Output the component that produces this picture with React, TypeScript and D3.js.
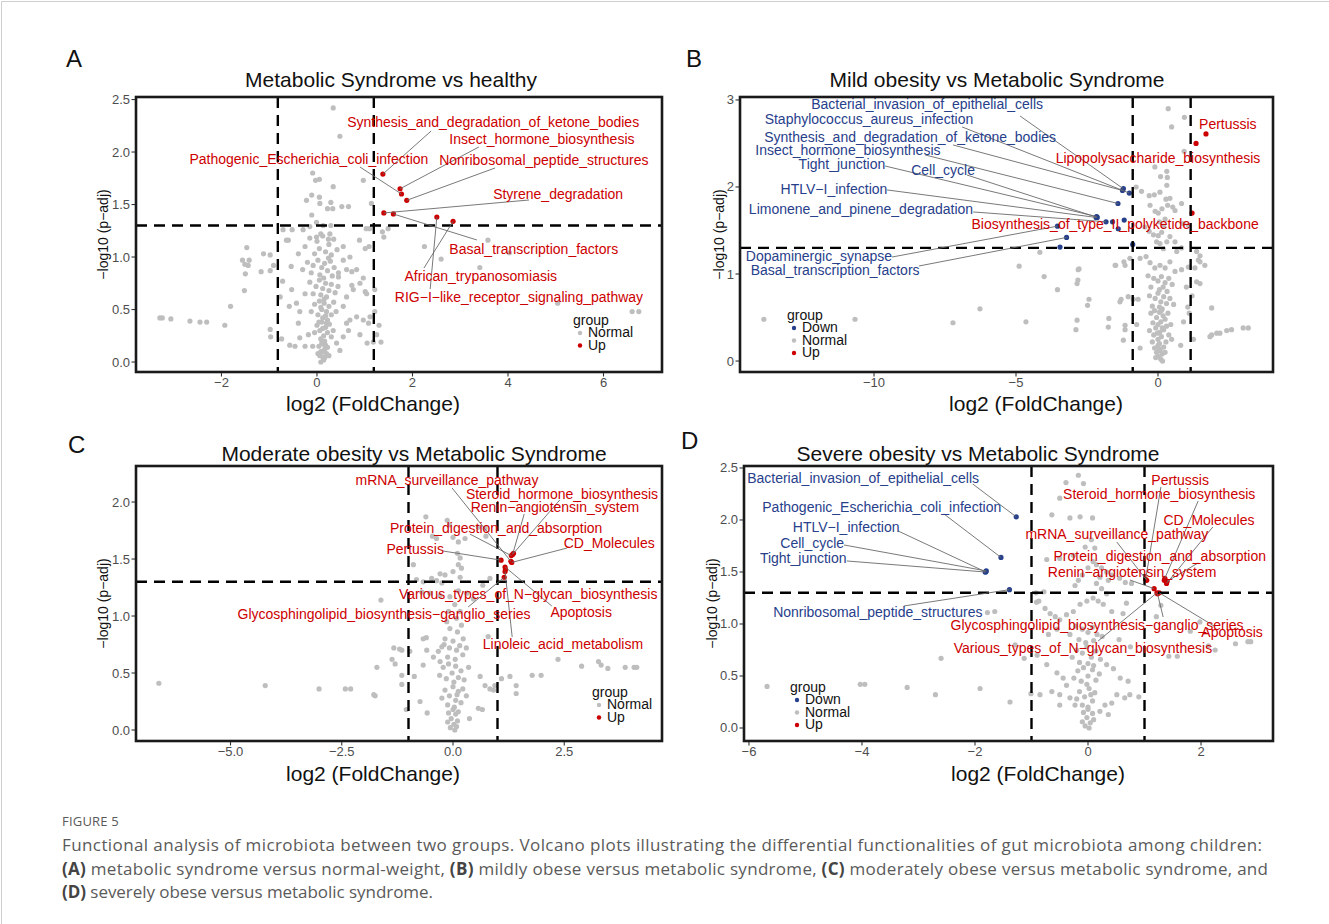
import React from "react";
import * as d3 from "d3";

const RED = "#CD0000";
const BLUE = "#27408B";
const GRAY = "#BEBEBE";
const FONT = "'Liberation Sans', Arial, Helvetica, sans-serif";

type Pt = [number, number];
type Hit = { x: number; y: number; label?: string; lx?: number; ly?: number; sx?: number; sy?: number };

// ---------- Panel A: Metabolic Syndrome vs healthy ----------
const grayA: Pt[] = [
  [-3.29, 0.42], [-3.24, 0.42], [-3.06, 0.41], [-2.66, 0.39], [-2.45, 0.38], [-2.31, 0.38], [-1.93, 0.35], [-1.81, 0.53],
  [-1.47, 1.09], [-1.56, 0.97], [-1.42, 0.97], [-1.51, 0.93], [-1.44, 0.92], [-1.5, 0.84], [-1.52, 0.68],
  [-1.12, 1.03], [-0.98, 1.02], [-1.17, 0.86], [-0.98, 0.87], [-0.71, 1.26], [-0.52, 1.26], [-0.64, 1.16], [-0.6, 1.16],
  [-0.72, 0.77], [-0.54, 0.91], [-0.39, 1.03], [-0.91, 0.92], [-0.98, 0.31], [-0.97, 0.24], [-0.74, 0.22], [-0.57, 0.16],
  [-0.46, 0.15], [-0.36, 0.23], [-0.25, 0.15], [-0.18, 0.26], [-0.09, 0.15], [-0.58, 0.53], [-0.43, 0.56], [-0.36, 0.48],
  [-0.39, 0.37], [-0.53, 0.69], [-0.77, 0.62], [-0.25, 0.65],
  [0.55, 0.97], [0.62, 0.88], [0.73, 0.86], [0.83, 0.88], [0.97, 0.8], [1.01, 0.67], [0.9, 0.75], [0.76, 0.69], [0.62, 0.62],
  [0.55, 0.53], [0.69, 0.4], [0.83, 0.43], [0.97, 0.4], [1.08, 0.37], [1.11, 0.43], [1.21, 0.48], [1.04, 0.65], [1.21, 0.69],
  [1.25, 0.26], [1.18, 0.19], [1.05, 0.18], [0.62, 0.37], [0.55, 0.24], [0.41, 0.18], [0.48, 0.11], [0.66, 0.3], [0.9, 0.26],
  [0.55, 1.1], [0.69, 1.0], [0.45, 0.81], [0.73, 0.73],
  [-0.15, 1.18], [0.0, 1.15], [0.12, 1.2], [0.25, 1.12], [0.35, 1.17], [0.05, 1.08], [0.18, 1.05], [0.3, 1.02], [-0.05, 1.03],
  [0.42, 1.07], [-0.25, 1.1],
  [-0.2, 0.95], [-0.08, 0.92], [0.02, 0.97], [0.1, 0.9], [0.16, 0.94], [0.22, 0.87], [0.28, 0.96], [0.36, 0.9], [0.45, 0.85],
  [-0.12, 0.85], [0.06, 0.83], [0.14, 0.8], [0.32, 0.82], [-0.3, 0.88], [0.24, 0.99],
  [-0.15, 0.76], [-0.02, 0.72], [0.05, 0.78], [0.12, 0.7], [0.18, 0.75], [0.25, 0.68], [0.3, 0.74], [0.38, 0.66], [0.08, 0.64],
  [0.2, 0.62], [-0.08, 0.65], [0.44, 0.72], [0.15, 0.6],
  [-0.05, 0.55], [0.05, 0.58], [0.1, 0.5], [0.15, 0.56], [0.2, 0.48], [0.25, 0.53], [0.3, 0.45], [0.35, 0.57], [0.02, 0.45],
  [0.12, 0.42], [0.22, 0.4], [0.4, 0.48], [0.08, 0.52], [0.18, 0.44], [-0.12, 0.48],
  [0.0, 0.35], [0.06, 0.3], [0.1, 0.38], [0.14, 0.25], [0.18, 0.33], [0.22, 0.28], [0.26, 0.36], [0.3, 0.24], [0.08, 0.22],
  [0.16, 0.2], [0.34, 0.3], [0.04, 0.38], [0.2, 0.37], [0.12, 0.32], [-0.05, 0.28],
  [0.04, 0.15], [0.08, 0.1], [0.12, 0.05], [0.16, 0.12], [0.2, 0.08], [0.1, 0.18], [0.14, 0.02], [0.18, 0.16], [0.06, 0.06],
  [0.22, 0.14], [0.12, 0.1], [0.16, 0.04], [0.25, 0.06], [0.02, 0.08], [0.08, 0.0], [0.14, 0.17],
  [0.34, 2.42], [0.48, 2.15], [-0.09, 1.8], [-0.03, 1.73], [0.05, 1.74], [0.34, 1.67], [0.97, 1.73], [1.14, 1.51], [-0.11, 1.59],
  [0.05, 1.57], [0.06, 1.51], [0.29, 1.52], [0.33, 1.46], [-0.22, 1.54], [0.22, 1.46], [0.52, 1.48], [0.66, 1.48], [-0.11, 1.4],
  [-0.01, 1.33], [0.29, 1.3], [0.13, 1.3], [-0.15, 1.29], [-0.29, 1.26], [1.03, 1.27], [1.1, 1.27], [1.37, 1.24], [1.4, 1.19],
  [1.49, 1.27], [-0.01, 1.19], [0.08, 1.22], [0.24, 1.17], [0.27, 1.22], [0.89, 1.16], [1.09, 1.1], [1.01, 1.08],
  [2.25, 1.1], [2.6, 0.98], [3.41, 0.9], [3.58, 1.16], [4.03, 1.04], [5.04, 0.56], [6.6, 0.48], [6.74, 0.48], [1.3, 0.35], [1.34, 0.19],
];
const upA: Hit[] = [
  { x: 1.38, y: 1.79, label: "Synthesis_and_degradation_of_ketone_bodies", lx: 3.69, ly: 2.286, sx: 2.39, sy: 2.2 },
  { x: 1.74, y: 1.65, label: "Insect_hormone_biosynthesis", lx: 4.71, ly: 2.124, sx: 3.39, sy: 2.048 },
  { x: 1.77, y: 1.6, label: "Pathogenic_Escherichia_coli_infection", lx: -0.17, ly: 1.933, sx: 0.9, sy: 1.857 },
  { x: 1.88, y: 1.54, label: "Nonribosomal_peptide_structures", lx: 4.75, ly: 1.924, sx: 3.73, sy: 1.848 },
  { x: 1.4, y: 1.42, label: "Styrene_degradation", lx: 5.05, ly: 1.6, sx: 4.44, sy: 1.543 },
  { x: 1.6, y: 1.41, label: "Basal_transcription_factors", lx: 4.54, ly: 1.076, sx: 3.35, sy: 1.162 },
  { x: 2.85, y: 1.34, label: "African_trypanosomiasis", lx: 3.43, ly: 0.819, sx: 2.24, sy: 0.895 },
  { x: 2.51, y: 1.38, label: "RIG\u2212I\u2212like_receptor_signaling_pathway", lx: 4.23, ly: 0.619, sx: 2.37, sy: 0.695 },
];

// ---------- Panel B: Mild obesity vs Metabolic Syndrome ----------
const grayB: Pt[] = [
  [0.36, 2.9], [0.93, 2.8], [0.48, 2.69], [0.92, 2.41], [-0.11, 2.23], [0.31, 2.18], [0.09, 2.12], [0.33, 2.11], [0.31, 2.02], [-0.77, 2.0],
  [-0.58, 1.95], [-0.31, 1.9], [-0.13, 1.91], [0.07, 1.94], [0.28, 1.86], [0.42, 1.87], [0.34, 1.79], [0.52, 1.77], [-0.28, 1.79], [0.83, 1.81],
  [-0.1, 1.72], [0.01, 1.7], [0.14, 1.75], [0.25, 1.63], [0.6, 1.73], [0.89, 1.58], [1.07, 1.56], [-0.46, 1.54], [-0.31, 1.49], [-0.16, 1.45],
  [0.01, 1.44], [0.13, 1.48], [0.31, 1.37], [0.42, 1.43], [0.05, 1.6], [0.2, 1.55],
  [-0.05, 1.37], [0.07, 1.35], [0.19, 1.29], [0.6, 1.37], [0.66, 1.26], [0.83, 1.3], [1.36, 1.26], [1.48, 1.21], [-0.63, 1.18], [-0.42, 1.2],
  [-0.99, 1.18], [-1.16, 1.1], [-1.51, 1.1], [-0.28, 1.13], [-0.11, 1.07], [0.07, 1.1], [0.25, 1.07], [0.42, 1.14], [0.6, 1.03], [0.83, 1.05],
  [1.07, 1.08], [1.3, 1.07], [1.48, 1.14], [1.65, 1.1], [1.42, 1.16],
  [-2.81, 1.05], [-2.85, 0.89], [-1.3, 0.71], [-2.48, 0.64], [-1.05, 0.74], [-0.87, 0.71], [-0.7, 0.71], [-1.16, 0.41], [-1.75, 0.39],
  [-2.89, 0.36], [-1.22, 0.24], [-0.75, 0.42], [-0.63, 0.15],
  [1.89, 0.61], [1.89, 0.3], [2.07, 0.32], [1.36, 0.91], [1.48, 0.89], [1.83, 0.28], [2.18, 0.32], [2.42, 0.35], [2.59, 0.36], [3.0, 0.38],
  [3.18, 0.38], [1.0, 0.85], [1.2, 0.75], [1.1, 0.55], [0.9, 0.45], [1.25, 0.25], [0.8, 0.18], [1.05, 0.62],
  [-13.88, 0.48], [-10.67, 0.48], [-7.22, 0.44], [-6.27, 0.6], [-4.89, 1.09], [-4.65, 0.45], [-4.16, 1.25], [-4.01, 0.97], [-3.54, 0.82],
  [-2.78, 1.06], [-2.82, 0.93], [-2.43, 0.71], [-2.85, 0.47], [-1.73, 0.49], [-1.16, 0.36], [-1.49, 1.1], [-1.2, 1.14], [-1.34, 0.68],
  [-0.35, 0.98], [-0.15, 0.95], [0.0, 0.92], [0.12, 0.97], [0.25, 0.9], [0.38, 0.95], [0.5, 0.88], [-0.25, 0.85], [0.05, 0.82], [0.18, 0.85], [0.32, 0.8],
  [-0.3, 0.75], [-0.1, 0.72], [0.0, 0.78], [0.1, 0.68], [0.2, 0.74], [0.3, 0.66], [0.42, 0.72], [-0.2, 0.63], [0.05, 0.62], [0.15, 0.6], [0.55, 0.65],
  [-0.25, 0.55], [-0.12, 0.58], [-0.05, 0.5], [0.05, 0.56], [0.1, 0.45], [0.18, 0.52], [0.25, 0.48], [0.35, 0.55], [0.45, 0.42], [-0.18, 0.44],
  [0.0, 0.42], [0.12, 0.58], [0.3, 0.4],
  [-0.3, 0.35], [-0.15, 0.3], [-0.08, 0.38], [0.0, 0.25], [0.06, 0.33], [0.12, 0.28], [0.2, 0.36], [0.28, 0.22], [0.38, 0.3], [-0.2, 0.22],
  [0.05, 0.2], [0.15, 0.38], [0.48, 0.25], [-0.02, 0.32],
  [-0.12, 0.15], [-0.05, 0.1], [0.02, 0.05], [0.08, 0.12], [0.14, 0.08], [0.2, 0.16], [0.0, 0.18], [0.1, 0.02], [-0.08, 0.04], [0.16, 0.0],
  [0.25, 0.1], [0.05, 0.14],
];
const downB: Hit[] = [
  { x: -1.22, y: 1.98, label: "Bacterial_invasion_of_epithelial_cells", lx: -8.13, ly: 2.954, sx: -4.86, sy: 2.816 },
  { x: -1.25, y: 1.96, label: "Synthesis_and_degradation_of_ketone_bodies", lx: -8.73, ly: 2.575, sx: -7.22, sy: 2.483 },
  { x: -1.01, y: 1.93, label: "Staphylococcus_aureus_infection", lx: -10.18, ly: 2.782, sx: -6.9, sy: 2.69 },
  { x: -1.41, y: 1.81, label: "Insect_hormone_biosynthesis", lx: -10.92, ly: 2.425, sx: -8.2, sy: 2.368 },
  { x: -2.16, y: 1.66, label: "Tight_junction", lx: -11.13, ly: 2.264, sx: -9.61, sy: 2.241 },
  { x: -2.14, y: 1.65, label: "Cell_cycle", lx: -7.57, ly: 2.195, sx: -6.73, sy: 2.138 },
  { x: -2.18, y: 1.65, label: "HTLV\u2212I_infection", lx: -11.41, ly: 1.977, sx: -9.54, sy: 1.966 },
  { x: -1.83, y: 1.6, label: "Limonene_and_pinene_degradation", lx: -10.46, ly: 1.747, sx: -6.51, sy: 1.713 },
  { x: -3.54, y: 1.55, label: "Dopaminergic_synapse", lx: -11.94, ly: 1.207, sx: -9.37, sy: 1.195 },
  { x: -3.22, y: 1.42, label: "Basal_transcription_factors", lx: -11.37, ly: 1.046, sx: -8.42, sy: 1.092 },
  { x: -1.6, y: 1.6 }, { x: -1.19, y: 1.62 }, { x: -1.4, y: 1.52 }, { x: -3.45, y: 1.31 }, { x: -0.89, y: 1.34 },
];
const upB: Hit[] = [
  { x: 1.69, y: 2.61, label: "Pertussis", lx: 2.46, ly: 2.724 },
  { x: 1.34, y: 2.5, label: "Lipopolysaccharide_biosynthesis", lx: 0.0, ly: 2.333 },
  { x: 1.2, y: 1.7, label: "Biosynthesis_of_type_II_polyketide_backbone", lx: -1.51, ly: 1.575 },
];

// ---------- Panel C: Moderate obesity vs Metabolic Syndrome ----------
const grayC: Pt[] = [
  [-0.61, 1.87], [-0.13, 1.84], [-0.08, 1.8], [-0.46, 1.7], [-0.37, 1.68], [0.0, 1.69], [0.12, 1.65], [0.27, 1.68], [0.57, 1.78], [0.72, 1.77],
  [0.74, 1.7], [-0.89, 1.45], [0.1, 1.55], [0.16, 1.51], [0.12, 1.45], [-0.29, 1.37], [-0.18, 1.36], [0.0, 1.39], [0.19, 1.42], [0.16, 1.34],
  [-0.48, 1.33], [-0.37, 1.31], [-0.25, 1.29], [-0.82, 1.32], [-0.67, 1.3], [0.83, 1.33], [0.67, 1.27],
  [-0.7, 1.21], [-0.52, 1.2], [-0.29, 1.18], [-0.07, 1.17], [0.12, 1.22], [0.31, 1.2], [0.46, 1.15], [0.04, 1.1], [0.16, 1.04], [-0.1, 1.04],
  [-0.14, 0.95], [-0.07, 0.89], [0.08, 0.98], [0.19, 0.92], [0.1, 0.86], [0.23, 0.8], [-0.18, 0.8], [-0.25, 0.73],
  [-1.62, 1.14], [-6.61, 0.41], [-4.22, 0.39], [-3.01, 0.36], [-2.42, 0.36], [-2.3, 0.36], [-1.75, 0.3], [-1.71, 0.55], [-1.33, 0.72],
  [-1.2, 0.71], [-1.37, 0.62], [-1.15, 0.48], [-0.87, 0.47], [-0.6, 0.81], [-0.74, 0.25], [-0.58, 0.15], [-1.05, 0.18],
  [-0.67, 0.8], [-0.59, 0.7], [-0.44, 0.64], [-0.33, 0.69], [-0.29, 0.6], [-1.15, 0.7], [-0.97, 0.69], [-0.67, 0.57], [-1.15, 0.4],
  [-1.3, 0.58], [-1.78, 0.31],
  [0.91, 0.35], [1.28, 0.47], [1.42, 0.39], [1.42, 0.32], [1.78, 0.48], [1.98, 0.48], [2.36, 0.62], [2.89, 0.56], [3.27, 0.6], [3.33, 0.57],
  [3.48, 0.54], [3.87, 0.55], [4.07, 0.55], [4.13, 0.55], [0.79, 0.82], [0.57, 0.19], [0.66, 0.18], [0.37, 0.1], [0.61, 0.47], [0.72, 0.39],
  [0.83, 0.36], [0.94, 0.39], [1.09, 0.45],
  [-0.2, 0.75], [-0.08, 0.72], [0.0, 0.78], [0.08, 0.7], [0.15, 0.74], [0.22, 0.66], [-0.12, 0.64], [0.05, 0.62], [0.3, 0.72],
  [-0.22, 0.55], [-0.1, 0.58], [-0.02, 0.5], [0.06, 0.56], [0.12, 0.46], [0.18, 0.52], [0.25, 0.44], [-0.15, 0.45], [0.02, 0.42], [0.35, 0.55], [-0.3, 0.48],
  [-0.18, 0.35], [-0.08, 0.3], [0.0, 0.38], [0.06, 0.26], [0.12, 0.34], [0.18, 0.24], [-0.12, 0.22], [0.03, 0.2], [0.22, 0.36], [0.3, 0.3],
  [-0.25, 0.28], [0.09, 0.31],
  [-0.1, 0.15], [-0.04, 0.1], [0.02, 0.05], [0.06, 0.14], [0.1, 0.08], [0.0, 0.18], [-0.06, 0.02], [0.04, 0.0], [0.12, 0.16], [0.08, 0.03], [-0.12, 0.07],
];
const upC: Hit[] = [
  { x: 1.3, y: 1.48, label: "mRNA_surveillance_pathway", lx: -0.135, ly: 2.193, sx: -0.02, sy: 2.123 },
  { x: 1.36, y: 1.55, label: "Steroid_hormone_biosynthesis", lx: 2.45, ly: 2.07, sx: 2.4, sy: 2.018 },
  { x: 1.34, y: 1.54, label: "Renin\u2212angiotensin_system", lx: 2.29, ly: 1.956, sx: 1.6, sy: 1.895 },
  { x: 1.31, y: 1.53, label: "Protein_digestion_and_absorption", lx: 0.97, ly: 1.772, sx: 0.38, sy: 1.719 },
  { x: 1.32, y: 1.47, label: "CD_Molecules", lx: 3.51, ly: 1.64, sx: 2.56, sy: 1.596 },
  { x: 1.08, y: 1.49, label: "Pertussis", lx: -0.85, ly: 1.588, sx: -0.22, sy: 1.57 },
  { x: 1.18, y: 1.41, label: "Various_types_of_N\u2212glycan_biosynthesis", lx: 1.69, ly: 1.193 },
  { x: 1.15, y: 1.34, label: "Glycosphingolipid_biosynthesis\u2212ganglio_series", lx: -1.55, ly: 1.018, sx: 0.34, sy: 1.079 },
  { x: 1.17, y: 1.43, label: "Apoptosis", lx: 2.88, ly: 1.035, sx: 2.22, sy: 1.088 },
  { x: 1.17, y: 1.39, label: "Linoleic_acid_metabolism", lx: 2.47, ly: 0.754, sx: 1.33, sy: 0.816 },
];

// ---------- Panel D: Severe obesity vs Metabolic Syndrome ----------
const grayD: Pt[] = [
  [-0.17, 2.43], [-0.08, 2.35], [-0.5, 2.21], [-0.64, 2.05], [-0.32, 2.02], [-0.14, 2.03], [0.08, 2.02], [-0.39, 2.36],
  [0.06, 1.81], [-0.05, 1.74], [0.12, 1.73], [-0.26, 1.66], [-0.5, 1.63], [-0.73, 1.62], [0.09, 1.6], [0.15, 1.57], [0.24, 1.54], [0.33, 1.5],
  [0.42, 1.47], [0.56, 1.44], [0.66, 1.4], [0.77, 1.39], [0.0, 1.54], [-0.1, 1.47], [-0.17, 1.42], [-0.23, 1.37], [0.21, 1.45], [0.36, 1.42],
  [0.15, 1.39], [0.24, 1.34], [0.33, 1.29],
  [-0.78, 1.31], [-0.87, 1.22], [-0.92, 1.3], [-0.91, 1.21], [-0.76, 1.15], [-0.67, 1.1], [-0.58, 1.07], [-0.5, 1.04], [-0.38, 1.09],
  [-0.26, 1.12], [-0.14, 1.19], [-0.02, 1.22], [0.09, 1.25], [0.18, 1.22], [0.27, 1.19], [0.42, 1.12], [0.62, 1.1], [0.68, 1.2],
  [-1.65, 1.12], [-1.78, 1.11], [1.29, 1.18], [1.21, 1.07], [1.98, 1.02],
  [-5.68, 0.4], [-4.03, 0.42], [-3.95, 0.42], [-3.2, 0.39], [-2.7, 0.32], [-2.6, 0.67], [-1.91, 0.38], [-1.38, 0.25],
  [-0.73, 0.61], [-0.55, 0.53], [-0.44, 0.48], [-0.38, 0.41], [-0.5, 0.32], [-0.64, 0.35], [-0.85, 0.32], [-1.01, 0.33], [-0.5, 0.22],
  [-0.32, 0.29], [-0.23, 0.22], [-1.13, 0.67], [-1.29, 0.8],
  [0.33, 0.61], [0.45, 0.57], [0.57, 0.48], [0.71, 0.45], [0.51, 0.32], [0.65, 0.29], [0.74, 0.32], [0.3, 0.22], [0.42, 0.24], [0.21, 0.16],
  [0.36, 0.13], [1.81, 0.93], [1.58, 0.69], [2.25, 0.75], [2.13, 0.79], [2.61, 0.81], [2.83, 0.83], [2.88, 0.83], [1.43, 0.69], [0.9, 0.3],
  [0.75, 0.78], [0.55, 0.85], [-0.7, 0.9], [-0.55, 0.95], [-0.9, 0.7],
  [-0.22, 0.98], [-0.1, 0.95], [0.0, 0.92], [0.08, 0.97], [0.16, 0.9], [-0.16, 0.85], [-0.04, 0.82], [0.1, 0.84], [0.25, 0.88], [-0.32, 0.9],
  [-0.2, 0.75], [-0.1, 0.72], [-0.02, 0.78], [0.06, 0.68], [0.14, 0.74], [-0.15, 0.63], [0.0, 0.62], [0.1, 0.6], [0.22, 0.66], [-0.28, 0.68],
  [-0.18, 0.55], [-0.08, 0.58], [0.0, 0.5], [0.08, 0.56], [0.14, 0.46], [-0.12, 0.45], [-0.02, 0.42], [0.2, 0.52], [-0.25, 0.48],
  [-0.15, 0.35], [-0.06, 0.3], [0.02, 0.38], [0.08, 0.26], [-0.1, 0.22], [0.0, 0.2], [0.12, 0.34], [-0.2, 0.28], [0.05, 0.32],
  [-0.08, 0.15], [-0.02, 0.1], [0.04, 0.05], [0.08, 0.14], [-0.05, 0.02], [0.0, 0.18], [0.1, 0.08], [-0.1, 0.06], [0.02, 0.0],
];
const downD: Hit[] = [
  { x: -1.27, y: 2.03, label: "Bacterial_invasion_of_epithelial_cells", lx: -3.98, ly: 2.404, sx: -2.04, sy: 2.346 },
  { x: -1.54, y: 1.64, label: "Pathogenic_Escherichia_coli_infection", lx: -3.65, ly: 2.125, sx: -2.55, sy: 2.058 },
  { x: -1.81, y: 1.5, label: "HTLV\u2212I_infection", lx: -4.28, ly: 1.933, sx: -3.36, sy: 1.894 },
  { x: -1.8, y: 1.51, label: "Cell_cycle", lx: -4.88, ly: 1.779, sx: -4.32, sy: 1.76 },
  { x: -1.82, y: 1.5, label: "Tight_junction", lx: -5.04, ly: 1.635, sx: -4.27, sy: 1.606 },
  { x: -1.39, y: 1.33, label: "Nonribosomal_peptide_structures", lx: -3.72, ly: 1.115, sx: -3.26, sy: 1.173 },
];
const upD: Hit[] = [
  { x: 1.02, y: 1.43, label: "Pertussis", lx: 1.63, ly: 2.385, sx: 1.29, sy: 2.317 },
  { x: 1.36, y: 1.44, label: "Steroid_hormone_biosynthesis", lx: 1.26, ly: 2.25, sx: 1.95, sy: 2.183 },
  { x: 1.39, y: 1.39, label: "CD_Molecules", lx: 2.14, ly: 2.0, sx: 2.21, sy: 1.933 },
  { x: 1.04, y: 1.42, label: "mRNA_surveillance_pathway", lx: 0.51, ly: 1.865, sx: 0.51, sy: 1.788 },
  { x: 1.4, y: 1.41, label: "Protein_digestion_and_absorption", lx: 1.27, ly: 1.654, sx: 1.95, sy: 1.587 },
  { x: 1.17, y: 1.34, label: "Renin\u2212angiotensin_system", lx: 0.78, ly: 1.5, sx: 0.74, sy: 1.423 },
  { x: 1.23, y: 1.29, label: "Glycosphingolipid_biosynthesis\u2212ganglio_series", lx: 0.16, ly: 0.99, sx: 1.33, sy: 1.067 },
  { x: 1.26, y: 1.3, label: "Apoptosis", lx: 2.55, ly: 0.923, sx: 2.23, sy: 0.981 },
  { x: 1.22, y: 1.3, label: "Various_types_of_N\u2212glycan_biosynthesis", lx: -0.09, ly: 0.769, sx: 0.18, sy: 0.837 },
  { x: 1.35, y: 1.42 },
];

const pThreshold = 1.3;

interface PanelCfg {
  letter: string;
  title: string;
  box: { l: number; r: number; t: number; b: number };
  xDom: [number, number];
  yDom: [number, number];
  xTicks: number[];
  yTicks: number[];
  xFmt: string;
  yFmt: string;
  vlines: number[];
  gray: Pt[];
  up: Hit[];
  down: Hit[];
  letterPos: [number, number];
  titlePos: [number, number];
  xTitlePos: [number, number];
  yTitleX: number;
  legend: { x: number; y: number; groups: string[] };
}

const panels: PanelCfg[] = [
  {
    letter: "A", title: "Metabolic Syndrome vs healthy",
    box: { l: 136, r: 662, t: 97, b: 372 }, xDom: [-3.79, 7.225], yDom: [-0.095, 2.524],
    xTicks: [-2, 0, 2, 4, 6], yTicks: [0, 0.5, 1, 1.5, 2, 2.5], xFmt: "d", yFmt: ".1f", vlines: [-0.82, 1.19],
    gray: grayA, up: upA, down: [],
    letterPos: [66, 67], titlePos: [391, 87], xTitlePos: [373, 411], yTitleX: 108,
    legend: { x: 573, y: 320, groups: ["Normal", "Up"] },
  },
  {
    letter: "B", title: "Mild obesity vs Metabolic Syndrome",
    box: { l: 740, r: 1273, t: 97, b: 372 }, xDom: [-14.72, 4.05], yDom: [-0.126, 3.034],
    xTicks: [-10, -5, 0], yTicks: [0, 1, 2, 3], xFmt: "d", yFmt: "d", vlines: [-0.89, 1.15],
    gray: grayB, up: upB, down: downB,
    letterPos: [686, 67], titlePos: [997, 87], xTitlePos: [1036, 411], yTitleX: 724,
    legend: { x: 787, y: 315, groups: ["Down", "Normal", "Up"] },
  },
  {
    letter: "C", title: "Moderate obesity vs Metabolic Syndrome",
    box: { l: 136, r: 662, t: 466, b: 741 }, xDom: [-7.124, 4.697], yDom: [-0.0965, 2.316],
    xTicks: [-5, -2.5, 0, 2.5], yTicks: [0, 0.5, 1, 1.5, 2], xFmt: ".1f", yFmt: ".1f", vlines: [-1, 1],
    gray: grayC, up: upC, down: [],
    letterPos: [68, 453], titlePos: [414, 461], xTitlePos: [373, 781], yTitleX: 108,
    legend: { x: 592, y: 692, groups: ["Normal", "Up"] },
  },
  {
    letter: "D", title: "Severe obesity vs Metabolic Syndrome",
    box: { l: 744, r: 1273, t: 466, b: 741 }, xDom: [-6.088, 3.274], yDom: [-0.125, 2.519],
    xTicks: [-6, -4, -2, 0, 2], yTicks: [0, 0.5, 1, 1.5, 2, 2.5], xFmt: "d", yFmt: ".1f", vlines: [-1, 1],
    gray: grayD, up: upD, down: downD,
    letterPos: [681, 449], titlePos: [978, 461], xTitlePos: [1038, 781], yTitleX: 717,
    legend: { x: 790, y: 687, groups: ["Down", "Normal", "Up"] },
  },
];

const minus = (s: string) => s.replace(/-/g, "\u2212");
const groupColor: Record<string, string> = { Down: BLUE, Normal: GRAY, Up: RED };

function Panel({ cfg }: { cfg: PanelCfg }) {
  const { box } = cfg;
  const x = d3.scaleLinear().domain(cfg.xDom).range([box.l, box.r]);
  const y = d3.scaleLinear().domain(cfg.yDom).range([box.b, box.t]);
  const xf = d3.format(cfg.xFmt);
  const yf = d3.format(cfg.yFmt);
  const hits = [...cfg.down.map((d) => ({ ...d, c: BLUE })), ...cfg.up.map((d) => ({ ...d, c: RED }))];
  return (
    <g>
      <text x={cfg.letterPos[0]} y={cfg.letterPos[1]} fontSize={24} fill="#111">{cfg.letter}</text>
      <text x={cfg.titlePos[0]} y={cfg.titlePos[1]} fontSize={21} textAnchor="middle" fill="#111">{cfg.title}</text>
      <rect x={box.l} y={box.t} width={box.r - box.l} height={box.b - box.t} fill="#fff" />
      {cfg.gray.map((p, i) => (
        <circle key={"g" + i} cx={x(p[0])} cy={y(p[1])} r={2.6} fill={GRAY} />
      ))}
      {hits.map((p, i) => (
        <circle key={"h" + i} cx={x(p.x)} cy={y(p.y)} r={2.6} fill={p.c} />
      ))}
      {cfg.vlines.map((v) => (
        <line key={"v" + v} x1={x(v)} x2={x(v)} y1={box.t} y2={box.b} stroke="#000" strokeWidth={2.4} strokeDasharray="11,7" />
      ))}
      <line x1={box.l} x2={box.r} y1={y(pThreshold)} y2={y(pThreshold)} stroke="#000" strokeWidth={2.4} strokeDasharray="11,7" />
      {hits.filter((p) => p.label && p.sx !== undefined).map((p, i) => (
        <line key={"s" + i} x1={x(p.x)} y1={y(p.y)} x2={x(p.sx!)} y2={y(p.sy!)} stroke="#6a6a6a" strokeWidth={0.9} />
      ))}
      {hits.filter((p) => p.label).map((p, i) => (
        <text key={"l" + i} x={x(p.lx!)} y={y(p.ly!)} fontSize={14} fill={p.c} textAnchor="middle" dominantBaseline="central">
          {p.label}
        </text>
      ))}
      <rect x={box.l} y={box.t} width={box.r - box.l} height={box.b - box.t} fill="none" stroke="#1a1a1a" strokeWidth={2.6} />
      {cfg.xTicks.map((t) => (
        <g key={"xt" + t}>
          <line x1={x(t)} x2={x(t)} y1={box.b + 1} y2={box.b + 4.5} stroke="#333" strokeWidth={1.1} />
          <text x={x(t)} y={box.b + 15} fontSize={13} fill="#4D4D4D" textAnchor="middle">{minus(xf(t))}</text>
        </g>
      ))}
      {cfg.yTicks.map((t) => (
        <g key={"yt" + t}>
          <line x1={box.l - 4.5} x2={box.l - 1} y1={y(t)} y2={y(t)} stroke="#333" strokeWidth={1.1} />
          <text x={box.l - 6} y={y(t)} fontSize={13} fill="#4D4D4D" textAnchor="end" dominantBaseline="central">{yf(t)}</text>
        </g>
      ))}
      <text x={cfg.xTitlePos[0]} y={cfg.xTitlePos[1]} fontSize={21} textAnchor="middle" fill="#111">log2 (FoldChange)</text>
      <text
        transform={`translate(${cfg.yTitleX},${(box.t + box.b) / 2}) rotate(-90)`}
        fontSize={14} textAnchor="middle" fill="#111"
      >
        {"\u2212log10 (p\u2212adj)"}
      </text>
      <g>
        <text x={cfg.legend.x} y={cfg.legend.y} fontSize={14} fill="#111" dominantBaseline="central">group</text>
        {cfg.legend.groups.map((g, i) => (
          <g key={g}>
            <circle cx={cfg.legend.x + 7} cy={cfg.legend.y + 13 + i * 12.5} r={2.2} fill={groupColor[g]} />
            <text x={cfg.legend.x + 15} y={cfg.legend.y + 12 + i * 12.5} fontSize={14} fill="#111" dominantBaseline="central">{g}</text>
          </g>
        ))}
      </g>
    </g>
  );
}

const captionHead = "FIGURE 5";
const captionLines: { b?: string; t: string }[][] = [
  [{ t: "Functional analysis of microbiota between two groups. Volcano plots illustrating the differential functionalities of gut microbiota among children:" }],
  [
    { b: "(A)", t: " metabolic syndrome versus normal-weight, " },
    { b: "(B)", t: " mildly obese versus metabolic syndrome, " },
    { b: "(C)", t: " moderately obese versus metabolic syndrome, and" },
  ],
  [{ b: "(D)", t: " severely obese versus metabolic syndrome." }],
];
const captionWidths = [1200, 1206, 371];

export default function App() {
  return (
    <svg
      width={1329}
      height={924}
      style={{ position: "absolute", left: 0, top: 0, display: "block", background: "#fff" }}
      fontFamily={FONT}
    >
      <rect width={1329} height={924} fill="#fff" />
      <line x1={1.5} x2={1329} y1={1.5} y2={1.5} stroke="#cfcfcf" strokeWidth={1} />
      <line x1={1.5} x2={1.5} y1={1.5} y2={924} stroke="#cfcfcf" strokeWidth={1} />
      {panels.map((p) => (
        <Panel key={p.letter} cfg={p} />
      ))}
      <g fontFamily="'Open Sans', 'Noto Sans', sans-serif" fill="#5a5a5a">
        <text x={62} y={826} fontSize={13} letterSpacing={0.2}>{captionHead}</text>
        {captionLines.map((line, i) => (
          <text key={i} x={62} y={851 + i * 23.5} fontSize={17} textLength={captionWidths[i]} lengthAdjust="spacing">
            {line.map((seg, j) => (
              <React.Fragment key={j}>
                {seg.b && <tspan fontWeight={700} fill="#444">{seg.b}</tspan>}
                <tspan>{seg.t}</tspan>
              </React.Fragment>
            ))}
          </text>
        ))}
      </g>
    </svg>
  );
}
